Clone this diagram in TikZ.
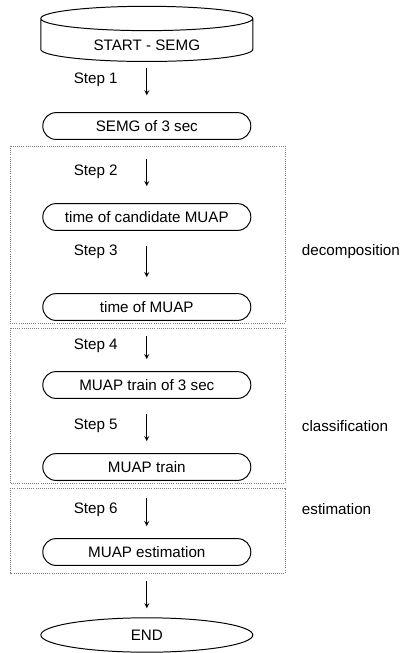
\documentclass[tikz,border=0pt]{standalone}
\usepackage{fontspec}
\setmainfont{Liberation Sans}
\usepackage{tikz}
\usetikzlibrary{shapes.geometric, arrows}
\tikzstyle{startstop} = [cylinder, shape border rotate=90, aspect=0.21, minimum width=5.3cm, minimum height=1.38cm, text centered, draw=black, line width=0.7pt]
\tikzstyle{stage} = [rectangle, rounded corners=0.33cm, minimum width=5.2cm, minimum height=0.67cm, text centered, draw=black, line width=0.7pt]
\tikzstyle{finish} = [ellipse, minimum width=5.3cm, minimum height=0.86cm, text centered, draw=black, line width=0.7pt]
\tikzstyle{phasebox} = [draw=gray, densely dotted, line width=0.5pt]
\tikzstyle{phase} = [anchor=west]
\tikzstyle{steplabel} = [left=0.6cm]
\tikzstyle{arrow} = [line width=0.6pt,->,>=stealth, shorten <=0.375cm, shorten >=0.3cm]

\begin{document}
\begin{tikzpicture}[font=\fontsize{10.8}{13}\selectfont]
        \useasboundingbox (0,0) rectangle (10.15,-16.325);
        \node (start) [startstop] at (3.67,-1.05) {\smash{\raisebox{-0.2cm}{START - SEMG}}};
        \node (semg) [stage, node distance=2.1cm, below of=start] {SEMG of 3 sec};
        \node (cand) [stage, node distance=2.275cm, below of=semg] {time of candidate MUAP};
        \node (tmuap) [stage, node distance=2.25cm, below of=cand] {time of MUAP};
        \node (train3) [stage, node distance=1.95cm, below of=tmuap] {MUAP train of 3 sec};
        \node (train) [stage, node distance=2.05cm, below of=train3] {MUAP train};
        \node (est) [stage, node distance=2.125cm, below of=train] {MUAP estimation};
        \node (end) [finish, node distance=2.075cm, below of=est] {END};

        \draw [arrow, shorten <=0.15cm, shorten >=0.42cm] (start) -- node[steplabel, pos=0.36] (s1) {Step 1} (semg);
        \draw [arrow, shorten <=0.475cm, shorten >=0.425cm] (semg) -- node[steplabel] (s2) {Step 2} (cand);
        \draw [arrow, shorten >=0.4cm] (cand) -- node[steplabel, pos=0.34] (s3) {Step 3} (tmuap);
        \draw [arrow] (tmuap) -- node[steplabel] (s4) {Step 4} (train3);
        \draw [arrow] (train3) -- node[steplabel] (s5) {Step 5} (train);
        \draw [arrow, shorten <=0.425cm] (train) -- node[steplabel] (s6) {Step 6} (est);
        \draw [arrow, shorten >=0.225cm] (est) -- (end);

        \draw [phasebox] (0.25,-3.65) rectangle (7.125,-8.075);
        \draw [phasebox] (0.25,-8.2) rectangle (7.125,-12.075);
        \draw [phasebox] (0.25,-12.2) rectangle (7.125,-14.325);

        \coordinate (rcol) at (7.425,0);
        \node (dec) [phase] at (s3 -| rcol) {decomposition};
        \node (cls) [phase] at (s5 -| rcol) {classification};
        \node (esti) [phase] at (s6 -| rcol) {estimation};
    \end{tikzpicture}
\end{document}
